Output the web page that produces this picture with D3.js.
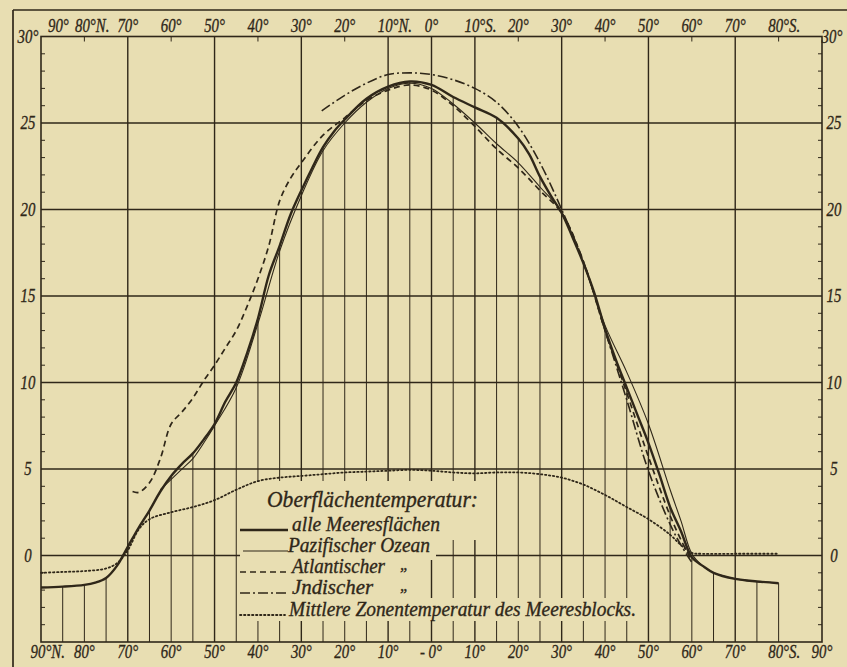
<!DOCTYPE html>
<html><head><meta charset="utf-8">
<script src="https://cdn.jsdelivr.net/npm/d3@7"></script>
<style>
body{margin:0;background:#E8DEB2;}
text{font-family:"Liberation Serif","DejaVu Serif",serif;font-style:italic;fill:#2f2719;stroke:#2f2719;stroke-width:0.35px;}
</style>
</head><body><svg id="c" width="847" height="667"></svg>
<script>
// ---------------- DATA ----------------
// latitude: + = North, - = South ; temperature in °C
const latAll = [90,85,80,77.5,75,72.5,70,67.5,65,62.5,60,57.5,55,52.5,50,47.5,45,42.5,40,37.5,35,32.5,30,27.5,25,22.5,20,15,10,5,0,-5,-10,-15,-20,-22.5,-25,-27.5,-30,-32.5,-35,-37.5,-40,-42.5,-45,-47.5,-50,-52.5,-55,-57.5,-60,-62.5,-65,-70,-75,-80];
const tempAll = [-1.85,-1.8,-1.7,-1.57,-1.3,-0.6,0.5,1.6,2.6,3.7,4.6,5.3,5.9,6.7,7.6,8.9,10.0,11.7,13.7,16.2,17.9,19.7,21.1,22.4,23.6,24.5,25.2,26.4,27.1,27.4,27.2,26.5,25.9,25.3,24.1,23.2,21.9,20.8,19.8,18.4,16.9,15.2,13.1,11.3,9.7,8.1,6.5,4.7,2.8,1.4,-0.1,-0.6,-1.0,-1.35,-1.5,-1.6];

const latPac = [62.5,60,57.5,55,52.5,50,45,40,35,30,25,20,15,10,5,0,-5,-10,-15,-20,-25,-30,-35,-40,-45,-50,-55,-57.5,-60,-62.5,-65,-70,-75,-80];
const tempPac = [3.8,4.4,5.0,5.6,6.5,7.5,9.7,13.4,17.6,20.8,23.4,25.0,26.2,27.0,27.3,27.0,26.1,25.0,23.8,22.7,21.3,19.85,16.9,13.3,10.6,7.6,3.8,2.0,0.1,-0.6,-1.0,-1.35,-1.5,-1.6];

const latAtl = [68.9,67.5,65,62.5,60,57.5,55,52.5,50,47.5,45,42.5,40,37.5,35,32.5,30,25,20,15,10,5,0,-5,-10,-15,-20,-25,-30,-35,-40,-45,-50,-55,-57.5,-60];
const tempAtl = [3.7,3.65,4.2,5.6,7.6,8.3,9.1,10.1,11.0,12.0,13.0,14.4,16.0,17.9,20.5,21.8,22.7,24.3,25.3,26.3,26.9,27.2,26.9,26.0,24.8,23.5,22.4,21.1,19.8,17.0,13.0,9.4,5.7,2.3,0.9,-0.3];

const latInd = [25.3,20,15,10,5,0,-5,-10,-15,-20,-25,-30,-35,-40,-45,-50,-55,-57.5,-60];
const tempInd = [25.7,26.6,27.3,27.8,27.9,27.8,27.5,27.0,26.2,24.8,22.7,20.0,17.0,13.0,9.0,4.9,1.8,0.6,-0.4];

const latZone = [90,85,80,75,72.5,70,67.5,65,60,55,50,45,40,35,30,25,20,15,10,5,0,-5,-10,-15,-20,-25,-30,-35,-40,-45,-50,-55,-57.5,-60,-62.5,-70,-80];
const tempZone = [-1.0,-0.95,-0.9,-0.75,-0.45,0.3,1.5,2.1,2.5,2.8,3.2,3.8,4.3,4.5,4.6,4.7,4.8,4.85,4.9,4.95,4.9,4.8,4.75,4.8,4.8,4.7,4.5,4.1,3.5,2.8,2.1,1.2,0.6,0.15,0.1,0.1,0.1];

const topTickLats = [90,80,70,60,50,40,30,20,10,0,-10,-20,-30,-40,-50,-60,-70,-80];
const topTickNum  = ["90°","80°","70°","60°","50°","40°","30°","20°","10°","0°","10°","20°","30°","40°","50°","60°","70°","80°"];
const topTickSuf  = ["","N.","","","","","","","N.","","S.","","","","","","","S."];
const botTickLats = [90,80,70,60,50,40,30,20,10,0,-10,-20,-30,-40,-50,-60,-70,-80,-90];
const botTickPre  = ["","","","","","","","","","- ","","","","","","","","",""];
const botTickNum  = ["90°","80°","70°","60°","50°","40°","30°","20°","10°","0°","10°","20°","30°","40°","50°","60°","70°","80°","90°"];
const botTickSuf  = ["N.","","","","","","","","","","","","","","","","","S.",""];
const tempTicks = [30,25,20,15,10,5,0];
const tempTickLabels = ["30°","25","20","15","10","5","0"];
const majorLats = [70,50,30,10,0,-10,-30,-50,-70];

const legendTitle = "Oberflächentemperatur:";
const legendNames = ["alle Meeresflächen","Pazifischer Ozean","Atlantischer","Jndischer","Mittlere Zonentemperatur des Meeresblocks."];
const legendDitto = ["","","„","„",""];

// ---------------- DRAW ----------------
const W=847,H=667, bg="#E8DEB2", ink="#2f2719";
const svg=d3.select("#c");
svg.append("rect").attr("width",W).attr("height",H).attr("fill",bg);

const x=d3.scaleLinear().domain([90,-90]).range([41,822]);
const y=d3.scaleLinear().domain([-5,30]).range([642,36.5]);
const X0=x(90),X1=x(-90),Y0=y(-5),Y1=y(30);

const g=svg.append("g");
// outer frame
g.append("line").attr("x1",13).attr("x2",W).attr("y1",10).attr("y2",10).attr("stroke",ink).attr("stroke-width",1.7);
g.append("line").attr("x1",13).attr("x2",13).attr("y1",10).attr("y2",H).attr("stroke",ink).attr("stroke-width",1.7);

// horizontal grid
g.selectAll(".hg").data(tempTicks.filter(t=>t<30)).enter().append("line")
  .attr("x1",X0).attr("x2",X1).attr("y1",d=>y(d)).attr("y2",d=>y(d))
  .attr("stroke",ink).attr("stroke-width",1.5);

// degree ticks on inner frame sides
const degs=d3.range(-4,30).filter(d=>d%5!==0);
g.selectAll(".lt").data(degs).enter().append("line")
  .attr("x1",X0).attr("x2",X0+4).attr("y1",d=>y(d)).attr("y2",d=>y(d)).attr("stroke",ink).attr("stroke-width",1);
g.selectAll(".rt").data(degs).enter().append("line")
  .attr("x1",X1-4).attr("x2",X1).attr("y1",d=>y(d)).attr("y2",d=>y(d)).attr("stroke",ink).attr("stroke-width",1);

// major verticals
g.selectAll(".mv").data(majorLats).enter().append("line")
  .attr("x1",d=>x(d)).attr("x2",d=>x(d)).attr("y1",Y1).attr("y2",Y0)
  .attr("stroke",ink).attr("stroke-width",1.4);

// thin verticals from curve "alle" down to base
const allMap=new Map(latAll.map((l,i)=>[l,tempAll[i]]));
const thin=d3.range(-85,90,5).filter(l=>!majorLats.includes(l)&&allMap.has(l));
g.selectAll(".tv").data(thin).enter().append("line")
  .attr("x1",d=>x(d)).attr("x2",d=>x(d)).attr("y1",d=>y(allMap.get(d))).attr("y2",Y0)
  .attr("stroke",ink).attr("stroke-width",1);

// small top ticks
g.selectAll(".tt").data([80,60,40,20,-20,-40,-60,-80]).enter().append("line")
  .attr("x1",d=>x(d)).attr("x2",d=>x(d)).attr("y1",Y1).attr("y2",Y1+5).attr("stroke",ink).attr("stroke-width",1);

// legend background (covers grid)
const lg=svg.append("g");
[[240,481,246,59],[240,540,196,20],[240,560,176,38],[240,598,403,23]].forEach(r=>{
  lg.append("rect").attr("x",r[0]).attr("y",r[1]).attr("width",r[2]).attr("height",r[3]).attr("fill",bg);
});

// inner frame
svg.append("rect").attr("x",X0).attr("y",Y1).attr("width",X1-X0).attr("height",Y0-Y1)
  .attr("fill","none").attr("stroke",ink).attr("stroke-width",1.6);

// curves
const line=d3.line().x(d=>x(d[0])).y(d=>y(d[1])).curve(d3.curveCatmullRom.alpha(0.5));
const zip=(a,b)=>a.map((v,i)=>[v,b[i]]);
const styles=[
  {w:1.8,dash:"1.4,2.6",cap:"round"},      // zone (dotted)
  {w:1.7,dash:"6,4",cap:"butt"},           // atlantic
  {w:1.6,dash:"10,3,2,3",cap:"butt"},      // indian
  {w:1.1,dash:null,cap:"butt"},            // pacific
  {w:2.4,dash:null,cap:"butt"}             // alle
];
const series=[zip(latZone,tempZone),zip(latAtl,tempAtl),zip(latInd,tempInd),zip(latPac,tempPac),zip(latAll,tempAll)];
const cg=svg.append("g");
series.forEach((s,i)=>{
  cg.append("path").attr("d",line(s)).attr("fill","none").attr("stroke",ink)
    .attr("stroke-width",styles[i].w).attr("stroke-dasharray",styles[i].dash)
    .attr("stroke-linecap",styles[i].cap).attr("stroke-linejoin","round");
});

// legend
const lt=svg.append("g");
lt.append("text").attr("x",267).attr("y",507).attr("font-size",23)
  .attr("textLength",211).attr("lengthAdjust","spacingAndGlyphs").text(legendTitle);
const rowY=[531,552,573,594,616];
const legStyle=[styles[4],styles[3],styles[1],styles[2],styles[0]];
const textX=[292,288,292,292,289];
const textW=[148,142,93,81,347];
legendNames.forEach((n,i)=>{
  const st=legStyle[i];
  lt.append("line").attr("x1",i===1?243:240).attr("x2",i===4?285:288).attr("y1",rowY[i]-1).attr("y2",rowY[i]-1)
    .attr("stroke",ink).attr("stroke-width",st.w).attr("stroke-dasharray",st.dash).attr("stroke-linecap",st.cap);
  lt.append("text").attr("x",textX[i]).attr("y",rowY[i]).attr("font-size",20)
    .attr("textLength",textW[i]).attr("lengthAdjust","spacingAndGlyphs").text(n);
  if(legendDitto[i]) lt.append("text").attr("x",400).attr("y",rowY[i]-3).attr("font-size",16).text(legendDitto[i]);
});

// axis labels (condensed italic)
const FS=19, SQ=0.78;
const ag=svg.append("g").attr("font-size",FS);
function measure(t){const e=ag.append("text").text(t);const w=e.node().getComputedTextLength();e.remove();return w*SQ;}
function lab(sx,sy,t,anchor){
  const w=measure(t);
  ag.append("text").attr("x",sx).attr("y",sy).attr("text-anchor",anchor||"start")
    .attr("textLength",w).attr("lengthAdjust","spacingAndGlyphs").text(t);
}
topTickLats.forEach((l,i)=>{
  const wn=measure(topTickNum[i]);
  let sx=x(l)-wn/2; if(l===90) sx=x(l)+7; if(l===80) sx+=1;
  lab(sx,32,topTickNum[i]+topTickSuf[i]);
});
botTickLats.forEach((l,i)=>{
  const wn=measure(botTickNum[i]), wp=botTickPre[i]?measure(botTickPre[i]):0;
  lab(x(l)-wn/2-wp,658,botTickPre[i]+botTickNum[i]+botTickSuf[i]);
});
tempTicks.forEach((t,i)=>{
  lab(28,y(t)+6,tempTickLabels[i],"middle");
  lab(t===30?832:834,y(t)+6,tempTickLabels[i],"middle");
});
</script></body></html>
